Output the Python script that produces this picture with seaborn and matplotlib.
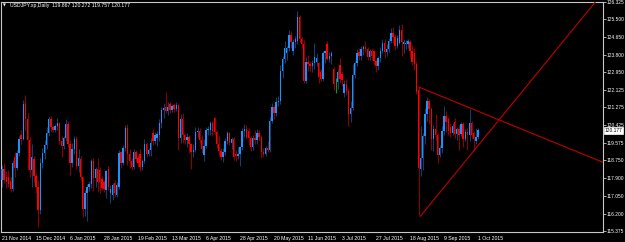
import matplotlib
matplotlib.use("Agg")
import matplotlib.pyplot as plt
import seaborn as sns

# ---------------- data (USDJPY daily) ----------------
opens = [
    117.80, 118.35, 117.95, 117.95, 117.75, 117.40, 118.90, 118.40, 119.10, 119.95,
    119.75, 121.50, 120.70, 119.70, 118.30, 118.80, 118.00, 117.50, 116.40, 118.60,
    119.10, 119.50, 120.05, 120.70, 120.35, 120.20, 120.40, 120.55, 119.65, 119.45,
    119.80, 120.50, 119.55, 118.60, 119.30, 119.75, 118.50, 118.80, 117.95, 116.45,
    117.20, 117.50, 117.60, 118.70, 117.90, 118.35, 118.30, 117.85, 117.70, 117.35,
    118.35, 117.20, 117.10, 117.65, 117.10, 117.50, 119.15, 118.60, 119.35, 120.30,
    119.05, 118.70, 118.45, 119.15, 118.85, 119.05, 118.45, 118.70, 119.55, 119.05,
    119.25, 120.05, 119.65, 119.80, 119.95, 120.55, 121.15, 121.30, 121.10, 121.45,
    121.15, 121.40, 121.20, 121.40, 119.80, 120.70, 119.95, 119.70, 119.85, 119.55,
    119.15, 119.25, 120.10, 120.15, 119.70, 119.00, 119.45, 120.20, 120.20, 120.55,
    120.75, 120.10, 119.55, 119.20, 118.90, 119.15, 119.65, 120.05, 119.60, 119.75,
    119.05, 118.95, 119.05, 119.40, 120.15, 120.25, 120.15, 119.80, 119.40, 119.80,
    119.70, 120.05, 119.85, 119.15, 119.05, 119.35, 119.25, 120.65, 121.30, 121.00,
    121.55, 121.60, 123.00, 123.60, 123.85, 124.10, 124.75, 123.95, 124.40, 124.45,
    125.60, 124.55, 124.30, 122.55, 123.45, 123.35, 123.25, 123.40, 123.45, 123.40,
    122.95, 122.65, 123.85, 124.30, 123.60, 123.75, 123.10, 122.50, 122.50, 123.30,
    122.85, 121.95, 122.40, 122.05, 120.95, 121.25, 122.80, 123.40, 123.90, 123.75,
    124.05, 124.15, 124.05, 123.70, 123.95, 123.95, 123.50, 123.25, 123.65, 123.95,
    124.35, 123.90, 124.05, 124.45, 124.85, 124.65, 124.20, 124.35, 124.95, 124.30,
    124.30, 124.30, 124.40, 123.95, 123.85, 123.35, 122.10, 118.35, 118.85, 119.90,
    120.95, 121.60, 121.20, 119.75, 120.25, 119.95, 119.00, 119.35, 120.15, 120.85,
    120.70, 120.35, 120.05, 120.60, 120.00, 120.25, 120.00, 120.50, 119.75, 120.10,
    119.95, 120.55, 120.05, 119.65, 119.867,
]
highs = [
    118.55, 118.60, 118.25, 118.30, 117.95, 118.75, 119.15, 119.25, 119.90, 120.20,
    121.65, 121.85, 121.00, 119.85, 119.55, 118.95, 118.15, 117.80, 118.85, 119.35,
    119.70, 120.35, 120.80, 120.85, 120.45, 120.50, 120.75, 120.60, 119.90, 119.90,
    120.70, 120.65, 119.70, 119.60, 119.90, 119.90, 119.30, 118.95, 117.95, 117.35,
    117.60, 117.75, 118.80, 118.85, 118.45, 118.85, 118.45, 118.00, 117.80, 118.30,
    118.50, 117.55, 117.65, 117.80, 117.70, 119.25, 119.20, 119.50, 120.45, 120.48,
    119.30, 118.85, 119.30, 119.25, 119.00, 119.30, 118.80, 119.75, 119.60, 119.35,
    119.80, 120.25, 120.10, 120.15, 120.70, 121.30, 121.50, 122.03, 121.55, 121.55,
    121.45, 121.50, 121.55, 121.45, 120.95, 121.00, 120.05, 120.05, 119.95, 119.60,
    119.55, 120.35, 120.35, 120.30, 119.95, 119.75, 120.35, 120.40, 120.65, 120.65,
    120.84, 120.20, 119.90, 119.35, 119.35, 119.80, 120.15, 120.10, 119.85, 119.85,
    119.25, 119.40, 119.45, 120.30, 120.50, 120.45, 120.30, 119.90, 119.95, 120.20,
    120.25, 120.20, 119.95, 119.35, 119.45, 119.65, 120.80, 121.50, 121.40, 121.75,
    121.80, 123.30, 123.75, 124.45, 124.20, 124.95, 124.90, 124.55, 124.70, 125.86,
    125.70, 124.65, 124.50, 123.70, 123.80, 123.50, 123.55, 124.35, 123.85, 123.45,
    123.10, 123.95, 124.00, 124.45, 123.90, 123.95, 123.20, 122.70, 123.10, 123.65,
    123.00, 122.60, 122.65, 122.20, 121.60, 123.35, 123.50, 124.05, 124.10, 124.20,
    124.25, 124.45, 124.15, 124.05, 124.10, 124.00, 123.60, 123.75, 124.15, 124.55,
    124.55, 124.30, 124.60, 125.05, 125.10, 124.80, 124.75, 125.20, 125.28, 124.55,
    124.50, 124.55, 124.50, 124.25, 124.10, 123.50, 122.25, 120.40, 120.05, 121.25,
    121.75, 121.70, 121.30, 120.45, 120.95, 120.05, 119.50, 120.40, 121.35, 121.10,
    120.80, 120.55, 120.55, 120.75, 120.35, 120.45, 120.60, 120.60, 120.25, 120.30,
    121.20, 120.65, 120.15, 120.30, 120.272,
]
lows = [
    117.50, 117.65, 117.45, 117.47, 117.23, 117.30, 117.95, 118.30, 118.95, 119.55,
    119.70, 120.20, 118.30, 117.95, 117.47, 117.70, 117.20, 115.57, 116.20, 118.40,
    118.80, 119.30, 119.90, 120.10, 120.10, 120.10, 120.20, 119.55, 118.90, 119.30,
    119.65, 119.40, 118.05, 118.45, 119.05, 118.35, 118.20, 117.75, 116.05, 116.10,
    115.86, 117.30, 117.45, 117.30, 117.50, 117.30, 117.20, 117.35, 117.25, 116.95,
    117.35, 116.70, 116.85, 117.00, 117.00, 117.40, 118.40, 118.55, 119.20, 118.55,
    118.40, 118.30, 118.35, 118.65, 118.45, 118.25, 118.30, 118.60, 118.90, 118.95,
    118.95, 119.50, 119.55, 119.45, 119.65, 120.30, 120.75, 121.00, 120.90, 121.00,
    121.05, 121.05, 121.10, 119.25, 119.60, 119.60, 119.55, 119.40, 119.10, 118.33,
    118.90, 119.15, 119.80, 119.60, 119.10, 118.72, 119.35, 119.95, 119.95, 119.90,
    119.95, 119.35, 118.95, 118.75, 118.65, 119.00, 119.55, 119.50, 119.30, 118.75,
    118.70, 118.80, 118.50, 119.25, 119.85, 119.75, 119.50, 119.20, 119.25, 119.55,
    119.55, 119.65, 118.88, 118.90, 118.95, 119.15, 119.15, 120.55, 120.70, 120.85,
    121.35, 121.45, 122.70, 123.40, 123.55, 123.95, 124.10, 123.80, 124.10, 124.30,
    124.40, 124.10, 122.45, 122.45, 123.00, 122.95, 122.95, 123.10, 123.25, 122.45,
    122.55, 122.55, 123.40, 123.55, 123.45, 123.35, 122.10, 121.95, 122.15, 122.45,
    122.30, 121.75, 121.85, 120.40, 120.60, 121.15, 122.70, 123.25, 123.55, 123.55,
    123.80, 123.90, 123.55, 123.55, 123.55, 123.35, 122.95, 123.05, 123.45, 123.85,
    123.65, 123.75, 123.90, 124.35, 124.35, 124.00, 124.10, 124.30, 123.75, 123.85,
    124.05, 124.10, 123.70, 123.30, 123.05, 121.90, 116.15, 118.00, 118.30, 119.55,
    120.65, 120.50, 119.25, 119.20, 119.70, 118.60, 118.90, 119.10, 119.95, 120.10,
    119.95, 119.85, 119.95, 119.80, 119.70, 119.25, 119.90, 119.40, 119.65, 119.25,
    119.65, 119.80, 119.20, 119.55, 119.757,
]
closes = [
    118.35, 117.80, 117.70, 117.60, 117.40, 118.60, 118.40, 119.10, 119.75, 119.75,
    121.45, 120.70, 119.70, 118.30, 118.90, 118.00, 117.50, 116.40, 118.60, 119.10,
    119.50, 120.05, 120.70, 120.35, 120.20, 120.40, 120.55, 119.65, 119.45, 119.80,
    120.50, 119.55, 118.60, 119.30, 119.75, 118.50, 118.85, 117.95, 116.45, 117.20,
    117.50, 117.60, 118.70, 117.90, 118.35, 117.70, 117.70, 117.45, 117.40, 118.25,
    117.50, 117.40, 117.55, 117.20, 117.55, 119.10, 118.60, 119.35, 120.30, 119.05,
    118.70, 118.45, 119.15, 118.80, 118.60, 118.45, 118.70, 119.55, 119.05, 119.25,
    119.60, 119.65, 119.95, 120.00, 120.55, 121.15, 121.25, 121.10, 121.30, 121.15,
    121.35, 121.20, 121.40, 119.80, 120.70, 119.95, 119.70, 119.85, 119.55, 119.15,
    119.25, 120.10, 120.15, 119.70, 119.30, 119.45, 120.20, 120.25, 120.55, 120.15,
    120.10, 119.55, 119.20, 118.90, 119.15, 119.65, 120.05, 119.60, 119.75, 118.90,
    118.95, 119.05, 119.40, 120.15, 120.25, 119.85, 119.80, 119.40, 119.80, 119.70,
    120.05, 119.85, 119.15, 119.05, 119.35, 119.25, 120.65, 121.30, 121.00, 121.55,
    121.60, 123.00, 123.60, 124.10, 124.10, 124.75, 124.40, 124.40, 124.55, 125.60,
    124.55, 124.30, 122.55, 123.45, 123.35, 123.25, 123.40, 123.70, 123.65, 122.75,
    122.65, 123.85, 123.95, 123.60, 123.75, 123.85, 122.40, 122.50, 122.95, 122.65,
    122.60, 122.40, 122.05, 120.95, 121.25, 122.80, 123.40, 123.85, 123.75, 124.05,
    124.15, 124.05, 123.70, 123.95, 123.75, 123.50, 123.25, 123.65, 123.95, 124.35,
    123.90, 124.05, 124.45, 124.85, 124.65, 124.20, 124.60, 124.95, 124.40, 124.40,
    124.35, 124.45, 123.95, 123.45, 123.35, 122.00, 118.40, 118.85, 119.90, 120.95,
    121.60, 121.20, 119.75, 120.25, 119.95, 119.00, 119.35, 120.15, 120.85, 120.60,
    120.15, 120.05, 120.40, 120.00, 120.25, 119.95, 120.50, 119.75, 120.10, 119.95,
    120.55, 119.95, 119.75, 119.87, 120.177,
]

date_labels = ["21 Nov 2014", "15 Dec 2014", "6 Jan 2015", "28 Jan 2015", "19 Feb 2015",
               "13 Mar 2015", "6 Apr 2015", "28 Apr 2015", "20 May 2015", "11 Jun 2015",
               "3 Jul 2015", "27 Jul 2015", "18 Aug 2015", "9 Sep 2015", "1 Oct 2015"]
label_bars = [0, 16, 32, 48, 64, 80, 96, 112, 128, 144, 160, 176, 192, 208, 224]
price_ticks = [126.325, 125.500, 124.650, 123.800, 122.950, 122.125, 121.275,
               120.425, 119.575, 118.750, 117.900, 117.050, 116.200, 115.375]

# trend lines (anchor bar index, price)
trend_down_bar = [196.2, 282.6]
trend_down_price = [122.245, 118.664]
trend_up_bar = [196.7, 282.6]
trend_up_price = [116.06, 126.73]

title_text = "USDJPY.xp,Daily  119.867 120.272 119.757 120.177"
last_price = 120.177

# ---------------- style ----------------
sns.set_style("dark", rc={"axes.facecolor": "black", "figure.facecolor": "black",
                          "axes.edgecolor": "#c8c8c8", "axes.grid": False})
plt.rcParams["font.family"] = ["Liberation Sans", "DejaVu Sans"]

W, H = 625, 242
fig = plt.figure(figsize=(W / 100, H / 100), dpi=100)
fig.patch.set_facecolor("black")
ax = fig.add_axes([1 / W, 1 - 232 / H, 601.5 / W, 230.5 / H])
ax.set_facecolor("black")

BULL_BODY, BULL_WICK = "#1e90ff", "#123f70"
BEAR_BODY, BEAR_WICK = "#ff0000", "#8b0000"
DOJI = "#1f8f1f"

n = len(closes)
xs = list(range(n))
for i in xs:
    o, h, l, c = opens[i], highs[i], lows[i], closes[i]
    if abs(c - o) < 1e-9:
        ax.vlines(i, l, h, color=DOJI, lw=0.8, zorder=2)
        continue
    up = c > o
    ax.vlines(i, l, h, color=BULL_WICK if up else BEAR_WICK, lw=0.8, zorder=2)
    ax.bar(i, abs(c - o), bottom=min(o, c), width=0.62,
           color=BULL_BODY if up else BEAR_BODY, linewidth=0, zorder=3)

sns.lineplot(x=trend_down_bar, y=trend_down_price, ax=ax, color="#c00000",
             lw=0.8, zorder=4, sort=False)
sns.lineplot(x=trend_up_bar, y=trend_up_price, ax=ax, color="#c00000",
             lw=0.8, zorder=4, sort=False)

ax.set_xlim((1 - 2) / 2.125, (602.5 - 2) / 2.125)
ax.set_ylim(115.33, 126.33)

for s in ax.spines.values():
    s.set_color("#c8c8c8")
    s.set_linewidth(0.8)

TXT = "#ffffff"
ax.yaxis.tick_right()
ax.set_yticks(price_ticks)
ax.set_yticklabels([f"{p:.3f}" for p in price_ticks])
ax.set_xticks(label_bars)
ax.set_xticklabels(date_labels, ha="left")
ax.tick_params(axis="y", direction="out", length=2.0, width=0.6, colors="#c8c8c8",
               labelcolor=TXT, labelsize=3.5, pad=0.8)
ax.tick_params(axis="x", direction="out", length=2.0, width=0.6, colors="#c8c8c8",
               labelcolor=TXT, labelsize=3.7, pad=1)
ax.set_xlabel("")
ax.set_ylabel("")

# title
fig.text(3 / W, 1 - 5.5 / H, "\u25bc", color="white", fontsize=2.6,
         va="center", ha="left", family="DejaVu Sans")
fig.text(10 / W, 1 - 5.5 / H, title_text, color="white", fontsize=3.7,
         va="center", ha="left")

# current price label
ax.text(1.003, last_price, f"{last_price:.3f}", transform=ax.get_yaxis_transform(),
        fontsize=3.5, color="black", va="center", ha="left", zorder=10,
        bbox=dict(boxstyle="square,pad=0.15", fc="white", ec="white", lw=0.5),
        clip_on=False)

fig.savefig("out.png", dpi=100, facecolor="black")
